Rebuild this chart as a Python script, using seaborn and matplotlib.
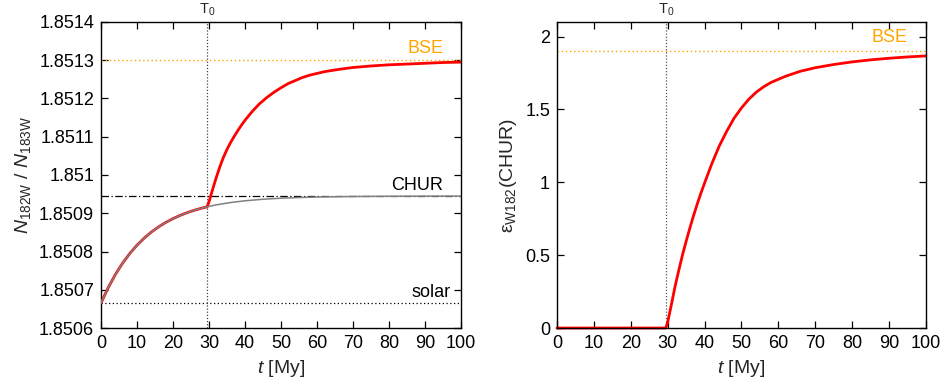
import numpy as np
import pandas as pd
import matplotlib
matplotlib.use('Agg')
import matplotlib.pyplot as plt
from matplotlib.ticker import FormatStrFormatter, MultipleLocator
import seaborn as sns

sns.set_style('ticks')
plt.rcParams['font.family'] = ['Liberation Sans', 'DejaVu Sans']
plt.rcParams['mathtext.fontset'] = 'custom'
plt.rcParams['mathtext.rm'] = 'Liberation Sans'
plt.rcParams['mathtext.it'] = 'Liberation Sans:italic'
plt.rcParams['font.size'] = 13

T0 = 29.5
R_BSE = 1.8513
R_CHUR = 1.850945
R_SOLAR = 1.850665
EPS_BSE = 1.9

# chondritic (gray) evolution
t_chur = [0, 2, 4, 6, 8, 10, 12, 14, 16, 18, 20, 22, 24, 26, 28, 29.5,
          32, 36, 40, 45, 50, 55, 60, 70, 80, 90, 100]
r_chur = [1.850665, 1.8507054, 1.85074, 1.8507695, 1.8507948, 1.8508165,
          1.850835, 1.8508509, 1.8508645, 1.8508761, 1.850886, 1.8508945,
          1.8509018, 1.850908, 1.8509134, 1.8509168, 1.8509219, 1.850928,
          1.8509326, 1.8509366, 1.8509393, 1.8509411, 1.8509424, 1.8509438,
          1.8509444, 1.8509447, 1.8509449]

# mantle (red) evolution after T0, left panel
t_mantle = [30, 31, 32, 33, 34, 35, 36, 37, 38, 39, 40, 42, 44, 46, 48, 50,
            52, 54, 56, 58, 62, 66, 70, 75, 80, 85, 90, 95, 100]
r_mantle = [1.850930, 1.850962, 1.850993, 1.851021, 1.851046, 1.851067,
            1.851085, 1.851101, 1.851116, 1.851130, 1.851143, 1.851166,
            1.851186, 1.851202, 1.851216, 1.851228, 1.851239, 1.851247,
            1.851255, 1.851261, 1.851270, 1.851276, 1.851281, 1.851285,
            1.851288, 1.851290, 1.851292, 1.851294, 1.851295]

# epsilon W182 relative to CHUR, right panel
t_eps = [0, 29.5, 30, 31, 32, 33, 34, 35, 36, 37, 38, 39, 40, 42, 44, 46, 48,
         50, 52, 54, 56, 58, 62, 66, 70, 75, 80, 85, 90, 95, 100]
eps = [0, 0, 0.04, 0.16, 0.285, 0.395, 0.50, 0.595, 0.685, 0.77, 0.85, 0.925,
       0.995, 1.13, 1.25, 1.35, 1.44, 1.51, 1.57, 1.618, 1.655, 1.685, 1.728,
       1.762, 1.786, 1.808, 1.826, 1.840, 1.851, 1.860, 1.867]

x_ticks = list(range(0, 101, 10))

chur_df = pd.DataFrame({'t': t_chur, 'r': r_chur})
pre = chur_df[chur_df['t'] <= T0]
red_df = pd.concat([pre, pd.DataFrame({'t': t_mantle, 'r': r_mantle})],
                   ignore_index=True)
eps_df = pd.DataFrame({'t': t_eps, 'eps': eps})

fig = plt.figure(figsize=(9.5, 3.84), dpi=100)
ax1 = fig.add_axes([0.1063, 0.1458, 0.379, 0.797])
ax2 = fig.add_axes([0.5863, 0.1458, 0.3884, 0.797])

orange = '#FFA500'

# ---- left panel
ax1.axhline(R_BSE, color=orange, ls=(0, (1, 2)), lw=1)
ax1.axhline(R_CHUR, color='black', ls=(0, (6, 2, 1, 2)), lw=0.9)
ax1.axhline(R_SOLAR, color='black', ls=(0, (1, 2)), lw=0.9)
ax1.axvline(T0, color='#444444', ls=(0, (1, 1.5)), lw=0.9)
sns.lineplot(data=red_df, x='t', y='r', ax=ax1, color='red', lw=2.0,
             sort=False, zorder=3)
sns.lineplot(data=chur_df, x='t', y='r', ax=ax1, color='#808080', lw=1.1,
             zorder=4)
ax1.annotate('BSE', xy=(95, R_BSE), xytext=(0, 5), textcoords='offset points',
             ha='right', va='baseline', color=orange)
ax1.annotate('CHUR', xy=(95, R_CHUR), xytext=(0, 4), textcoords='offset points',
             ha='right', va='baseline', color='black')
ax1.annotate('solar', xy=(97, R_SOLAR), xytext=(0, 4.5), textcoords='offset points',
             ha='right', va='baseline', color='black')
ax1.set_xlim(0, 100)
ax1.set_ylim(1.8506, 1.8514)
ax1.yaxis.set_major_locator(MultipleLocator(0.0001))
ax1.yaxis.set_major_formatter(FormatStrFormatter('%g'))
ax1.set_ylabel(r'$N_{\mathrm{182W}}$ / $N_{\mathrm{183W}}$', fontsize=14)

# ---- right panel
ax2.axhline(EPS_BSE, color=orange, ls=(0, (1, 2)), lw=1)
ax2.axvline(T0, color='#555555', ls=(0, (1, 1.5)), lw=0.9)
sns.lineplot(data=eps_df, x='t', y='eps', ax=ax2, color='red', lw=2.0,
             zorder=2, clip_on=False)
ax2.annotate('BSE', xy=(95, EPS_BSE), xytext=(0, 6.5), textcoords='offset points',
             ha='right', va='baseline', color=orange)
ax2.set_xlim(0, 100)
ax2.set_ylim(0, 2.1)
ax2.yaxis.set_major_locator(MultipleLocator(0.5))
ax2.yaxis.set_major_formatter(FormatStrFormatter('%g'))
ax2.set_ylabel(r'ε$_{\mathrm{W182}}$(CHUR)', fontsize=14)

for ax in (ax1, ax2):
    ax.set_xticks(x_ticks)
    ax.set_xlabel(r'$t$ [My]', fontsize=14)
    ax.tick_params(direction='in', length=5, width=0.9, top=True, right=True,
                   labelsize=13, colors='black', pad=5)
    for s in ax.spines.values():
        s.set_linewidth(1.0)
        s.set_color('black')
    ax.text(T0, 1.012, r'T$_0$', transform=ax.get_xaxis_transform(),
            ha='center', va='bottom', fontsize=10.5)

fig.savefig('out.png', dpi=100)
